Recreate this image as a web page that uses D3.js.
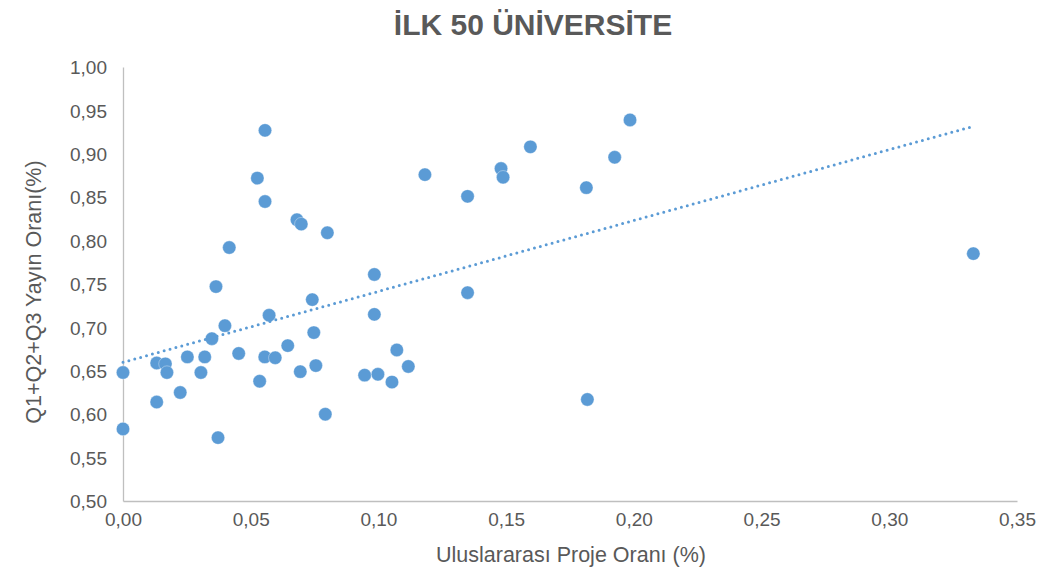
<!DOCTYPE html>
<html>
<head>
<meta charset="utf-8">
<script src="https://cdn.jsdelivr.net/npm/d3@7"></script>
<style>
  html, body { margin: 0; padding: 0; background: #fff; }
  svg { display: block; }
</style>
</head>
<body>
<svg id="chart" width="1061" height="569"></svg>
<script>
// ---- Data ----
const titleText = "İLK 50 ÜNİVERSİTE";
const xLabelText = "Uluslararası Proje Oranı (%)";
const yLabelText = "Q1+Q2+Q3 Yayın Oranı(%)";

const projeOrani = [
  0.000, 0.000, 0.0132, 0.0132, 0.0166, 0.0172, 0.0224, 0.0252, 0.0305, 0.0320,
  0.0348, 0.0364, 0.0372, 0.0399, 0.0416, 0.0453, 0.0526, 0.0535, 0.0556, 0.0556,
  0.0555, 0.0572, 0.0596, 0.0645, 0.0681, 0.0698, 0.0694, 0.0741, 0.0747, 0.0755,
  0.0792, 0.0800, 0.0946, 0.0984, 0.0984, 0.0998, 0.1053, 0.1072, 0.1117, 0.1182,
  0.1349, 0.1349, 0.1480, 0.1488, 0.1595, 0.1814, 0.1818, 0.1925, 0.1985, 0.3329
];
const yayinOrani = [
  0.648, 0.583, 0.659, 0.614, 0.658, 0.648, 0.625, 0.666, 0.648, 0.666,
  0.687, 0.747, 0.573, 0.702, 0.792, 0.670, 0.872, 0.638, 0.927, 0.845,
  0.666, 0.714, 0.665, 0.679, 0.824, 0.819, 0.649, 0.732, 0.694, 0.656,
  0.600, 0.809, 0.645, 0.761, 0.715, 0.646, 0.637, 0.674, 0.655, 0.876,
  0.851, 0.740, 0.883, 0.873, 0.908, 0.861, 0.617, 0.896, 0.939, 0.785
];
const xTicks = [0, 0.05, 0.10, 0.15, 0.20, 0.25, 0.30, 0.35];
const yTicks = [0.50, 0.55, 0.60, 0.65, 0.70, 0.75, 0.80, 0.85, 0.90, 0.95, 1.00];

// ---- Layout ----
const svg = d3.select("#chart");
const plot = { left: 123, right: 1017, top: 67, bottom: 501 };
const color = "#5B9BD5";
const textColor = "#595959";
const axisColor = "#BFBFBF";
const font = "'Liberation Sans', Arial, sans-serif";

const x = d3.scaleLinear().domain([0, 0.35]).range([plot.left, plot.right]);
const y = d3.scaleLinear().domain([0.5, 1.0]).range([plot.bottom, plot.top]);
const fmt = v => d3.format(".2f")(v).replace(".", ",");

const points = projeOrani.map((v, i) => ({ x: v, y: yayinOrani[i] }));

// Title
svg.append("text")
  .attr("x", 533).attr("y", 35)
  .attr("text-anchor", "middle")
  .attr("font-family", font).attr("font-weight", "bold").attr("font-size", 30)
  .attr("fill", textColor)
  .text(titleText);

// Axes
const xAxis = d3.axisBottom(x).tickValues(xTicks).tickSize(0).tickPadding(12).tickFormat(fmt);
const yAxis = d3.axisLeft(y).tickValues(yTicks).tickSize(0).tickPadding(16).tickFormat(fmt);

const gx = svg.append("g").attr("transform", `translate(0,${plot.bottom})`).call(xAxis);
const gy = svg.append("g").attr("transform", `translate(${plot.left},0)`).call(yAxis);
[gx, gy].forEach(g => {
  g.select(".domain").attr("stroke", axisColor).attr("stroke-width", 1.3);
  g.selectAll("text").attr("fill", textColor).attr("font-family", font).attr("font-size", 19);
});
gy.selectAll("text").attr("dy", "0.35em");

// Axis titles
svg.append("text")
  .attr("x", 571).attr("y", 562)
  .attr("text-anchor", "middle")
  .attr("font-family", font).attr("font-size", 21.5)
  .attr("fill", textColor)
  .text(xLabelText);

svg.append("text")
  .attr("transform", `translate(41,${(plot.top + plot.bottom) / 2 + 8}) rotate(-90)`)
  .attr("text-anchor", "middle")
  .attr("font-family", font).attr("font-size", 21.5)
  .attr("fill", textColor)
  .text(yLabelText);

// Linear trendline (least squares through the data)
const mx = d3.mean(points, d => d.x), my = d3.mean(points, d => d.y);
const sxy = d3.sum(points, d => (d.x - mx) * (d.y - my));
const sxx = d3.sum(points, d => (d.x - mx) ** 2);
const slope = sxy / sxx, intercept = my - slope * mx;
const xExt = d3.extent(points, d => d.x);
const trend = xExt.map(v => ({ x: v, y: intercept + slope * v }));

// Points
svg.append("g").selectAll("circle").data(points).join("circle")
  .attr("cx", d => x(d.x)).attr("cy", d => y(d.y)).attr("r", 6.7)
  .attr("fill", color)
  .attr("stroke", "#ffffff").attr("stroke-width", 0.6).attr("stroke-opacity", 0.6);

svg.append("path")
  .datum(trend)
  .attr("d", d3.line().x(d => x(d.x)).y(d => y(d.y)))
  .attr("fill", "none")
  .attr("stroke", color)
  .attr("stroke-width", 3)
  .attr("stroke-linecap", "round")
  .attr("stroke-dasharray", "0,6.1");
</script>
</body>
</html>
